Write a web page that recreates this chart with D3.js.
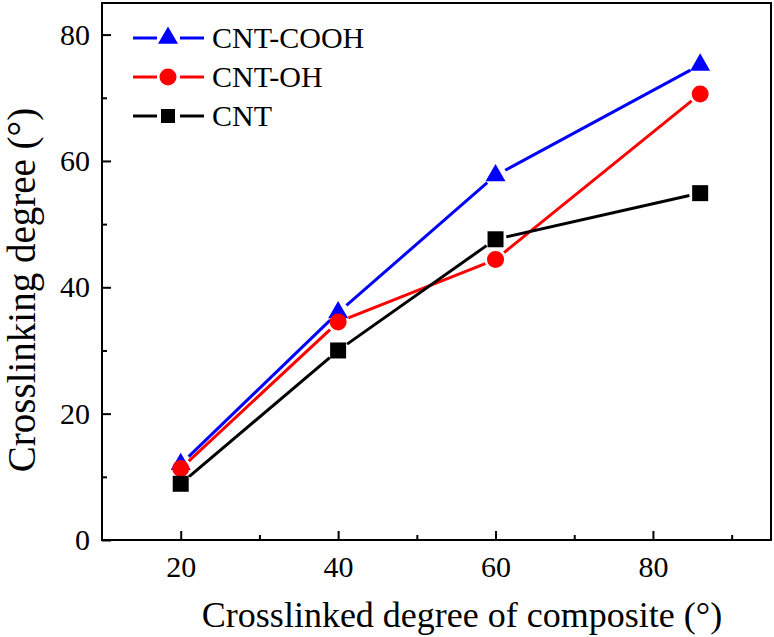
<!DOCTYPE html>
<html>
<head>
<meta charset="utf-8">
<script src="https://cdn.jsdelivr.net/npm/d3@7"></script>
<style>
  html, body { margin: 0; padding: 0; background: #fff; }
  svg { display: block; }
</style>
</head>
<body>
<svg id="chart" width="774" height="637"></svg>
<script>
// ---- data ----
const xValues = [20, 40, 60, 86];
const seriesNames = ["CNT-COOH", "CNT-OH", "CNT"];
const cntCOOH = [12.0, 36.0, 57.7, 75.2];
const cntOH = [11.3, 34.5, 44.4, 70.6];
const cnt = [8.9, 30.0, 47.6, 54.9];
const xTicks = [20, 40, 60, 80];
const xMinorTicks = [30, 50, 70, 90];
const yTicks = [0, 20, 40, 60, 80];
const yMinorTicks = [10, 30, 50, 70];
const xTitle = "Crosslinked degree of composite (°)";
const yTitle = "Crosslinking degree (°)";

const SERIF = "serif";

const series = [
  { name: seriesNames[0], values: cntCOOH, color: "#0000ff", shape: d3.symbolTriangle, size: 173, legendSize: 173 },
  { name: seriesNames[1], values: cntOH, color: "#ff0000", shape: d3.symbolCircle, size: 227, legendSize: 227 },
  { name: seriesNames[2], values: cnt, color: "#000000", shape: d3.symbolSquare, size: 256, legendSize: 196 }
];

const svg = d3.select("#chart");
const m = { left: 102, right: 771, top: 3, bottom: 540 };

const x = d3.scaleLinear().domain([10, 95]).range([m.left, m.right]);
const y = d3.scaleLinear().domain([0, 85]).range([m.bottom, m.top]);

// axes
const gx = svg.append("g").attr("transform", `translate(0,${m.bottom})`)
  .call(d3.axisBottom(x).tickValues(xTicks).tickSize(-9).tickPadding(16).tickFormat(d3.format("d")));
const gxm = svg.append("g").attr("transform", `translate(0,${m.bottom})`)
  .call(d3.axisBottom(x).tickValues(xMinorTicks).tickSize(-5).tickFormat(""));
const gy = svg.append("g").attr("transform", `translate(${m.left},0)`)
  .call(d3.axisLeft(y).tickValues(yTicks).tickSize(-9).tickPadding(12).tickFormat(d3.format("d")));
const gym = svg.append("g").attr("transform", `translate(${m.left},0)`)
  .call(d3.axisLeft(y).tickValues(yMinorTicks).tickSize(-5).tickFormat(""));

[gx, gxm, gy, gym].forEach(g => {
  g.attr("font-family", SERIF).attr("font-size", 30);
  g.select(".domain").remove();
  g.selectAll(".tick line").attr("stroke", "#000").attr("stroke-width", 2);
  g.selectAll(".tick text").attr("font-family", SERIF).attr("font-size", 30).attr("fill", "#000");
});

// frame
svg.append("rect").attr("x", m.left).attr("y", m.top)
  .attr("width", m.right - m.left).attr("height", m.bottom - m.top)
  .attr("fill", "none").attr("stroke", "#000").attr("stroke-width", 2);

// gapped segments
const gap = 11;
function segs(vals) {
  const pts = vals.map((v, i) => [x(xValues[i]), y(v)]);
  const out = [];
  for (let i = 0; i < pts.length - 1; i++) {
    const [x1, y1] = pts[i], [x2, y2] = pts[i + 1];
    const dx = x2 - x1, dy = y2 - y1, L = Math.hypot(dx, dy);
    const ux = dx / L, uy = dy / L;
    out.push([[x1 + ux * gap, y1 + uy * gap], [x2 - ux * gap, y2 - uy * gap]]);
  }
  return out;
}

const lineGen = d3.line();
series.forEach(s => {
  const g = svg.append("g");
  g.selectAll("path.seg").data(segs(s.values)).join("path")
    .attr("d", d => lineGen(d)).attr("stroke", s.color).attr("stroke-width", 3).attr("fill", "none");
});
series.forEach(s => {
  svg.append("g").selectAll("path.mk").data(s.values).join("path")
    .attr("transform", (d, i) => `translate(${x(xValues[i])},${y(d)})`)
    .attr("d", d3.symbol().type(s.shape).size(s.size)).attr("fill", s.color);
});

// legend
const legRows = [38, 77, 116];
series.forEach((s, i) => {
  const ly = legRows[i];
  const g = svg.append("g");
  g.append("line").attr("x1", 133).attr("x2", 157).attr("y1", ly).attr("y2", ly).attr("stroke", s.color).attr("stroke-width", 3);
  g.append("line").attr("x1", 180).attr("x2", 204).attr("y1", ly).attr("y2", ly).attr("stroke", s.color).attr("stroke-width", 3);
  g.append("path").attr("transform", `translate(168,${ly})`)
    .attr("d", d3.symbol().type(s.shape).size(s.legendSize)).attr("fill", s.color);
  g.append("text").attr("x", 212).attr("y", ly + 10)
    .attr("font-family", SERIF).attr("font-size", 30).attr("fill", "#000").text(s.name);
});

// titles
svg.append("text").attr("x", 462).attr("y", 627).attr("text-anchor", "middle")
  .attr("font-family", SERIF).attr("font-size", 36).attr("fill", "#000").text(xTitle);
svg.append("text").attr("transform", "translate(35,290) rotate(-90)").attr("text-anchor", "middle")
  .attr("font-family", SERIF).attr("font-size", 39).attr("fill", "#000").text(yTitle);
</script>
</body>
</html>
